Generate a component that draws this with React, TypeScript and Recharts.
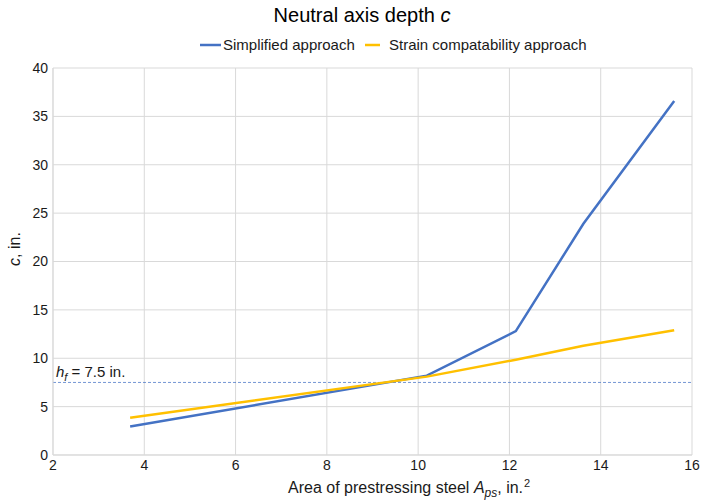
import { LineChart, Line, XAxis, YAxis, CartesianGrid, ReferenceLine } from 'recharts';

const areaPs = [3.69, 10.19, 12.14, 13.62, 15.61];
const simplified = [2.95, 8.2, 12.8, 23.9, 36.6];
const strainCompat = [3.85, 8.1, 9.85, 11.3, 12.9];
const xTicks = [2, 4, 6, 8, 10, 12, 14, 16];
const yTicks = [0, 5, 10, 15, 20, 25, 30, 35, 40];
const flangeDepth = 7.5;

const data = areaPs.map((x, i) => ({ x, simplified: simplified[i], strain: strainCompat[i] }));

const font = '"Liberation Sans", Arial, sans-serif';
const BLUE = '#4472C4';
const GOLD = '#FFC000';
const INK = '#1a1a1a';

function HfLabel(props: any) {
  const vb = props.viewBox || {};
  return (
    <text x={vb.x + 3} y={vb.y - 5} fontSize={15} fontFamily={font} fill={INK}>
      <tspan fontStyle="italic">h</tspan>
      <tspan fontStyle="italic" fontSize={11} dy={4}>f</tspan>
      <tspan dy={-4}> = 7.5 in.</tspan>
    </text>
  );
}

export default function App() {
  return (
    <div style={{ position: 'absolute', left: 0, top: 0, width: 705, height: 500, background: '#fff' }}>
      <LineChart width={705} height={500} data={data} margin={{ top: 68, right: 13, left: 0, bottom: 0 }}>
        <CartesianGrid stroke="#D9D9D9" strokeWidth={1} />
        <XAxis
          dataKey="x"
          type="number"
          domain={[2, 16]}
          ticks={xTicks}
          height={45}
          tickLine={false}
          tickSize={3}
          tickMargin={2}
          axisLine={{ stroke: '#D9D9D9' }}
          tick={{ fontSize: 14, fill: INK, fontFamily: font }}
          interval={0}
        />
        <YAxis
          type="number"
          domain={[0, 40]}
          ticks={yTicks}
          width={53}
          tickLine={false}
          tickSize={3}
          tickMargin={2}
          axisLine={{ stroke: '#D9D9D9' }}
          tick={{ fontSize: 14, fill: INK, fontFamily: font }}
          interval={0}
        />
        <ReferenceLine y={flangeDepth} stroke={BLUE} strokeOpacity={0.75} strokeDasharray="3 2" strokeWidth={1} label={HfLabel} />
        <Line type="linear" dataKey="simplified" stroke={BLUE} strokeWidth={2.5} dot={false} isAnimationActive={false} />
        <Line type="linear" dataKey="strain" stroke={GOLD} strokeWidth={2.5} dot={false} isAnimationActive={false} />
      </LineChart>
      {/* title, legend and axis titles */}
      <svg width={705} height={500} style={{ position: 'absolute', left: 0, top: 0, pointerEvents: 'none' }} fontFamily={font}>
        <text x={362} y={22} textAnchor="middle" fontSize={20} fill="#000">
          Neutral axis depth <tspan fontStyle="italic">c</tspan>
        </text>
        <line x1={200} x2={221} y1={45} y2={45} stroke={BLUE} strokeWidth={2.5} />
        <text x={223} y={50} fontSize={15} fill={INK}>Simplified approach</text>
        <line x1={365} x2={380} y1={45} y2={45} stroke={GOLD} strokeWidth={2.5} />
        <text x={389} y={50} fontSize={15} fill={INK}>Strain compatability approach</text>
        <text transform="rotate(-90)" x={-249} y={20} textAnchor="middle" fontSize={16} fill={INK}>
          <tspan fontStyle="italic">c</tspan>, in.
        </text>
        <text x={288} y={493} fontSize={16} fill={INK}>
          Area of prestressing steel <tspan fontStyle="italic">A</tspan>
          <tspan fontStyle="italic" fontSize={12} dy={4}>ps</tspan>
          <tspan dy={-4}>, in.</tspan>
          <tspan fontSize={11} dy={-6} dx={1}>2</tspan>
        </text>
      </svg>
    </div>
  );
}
